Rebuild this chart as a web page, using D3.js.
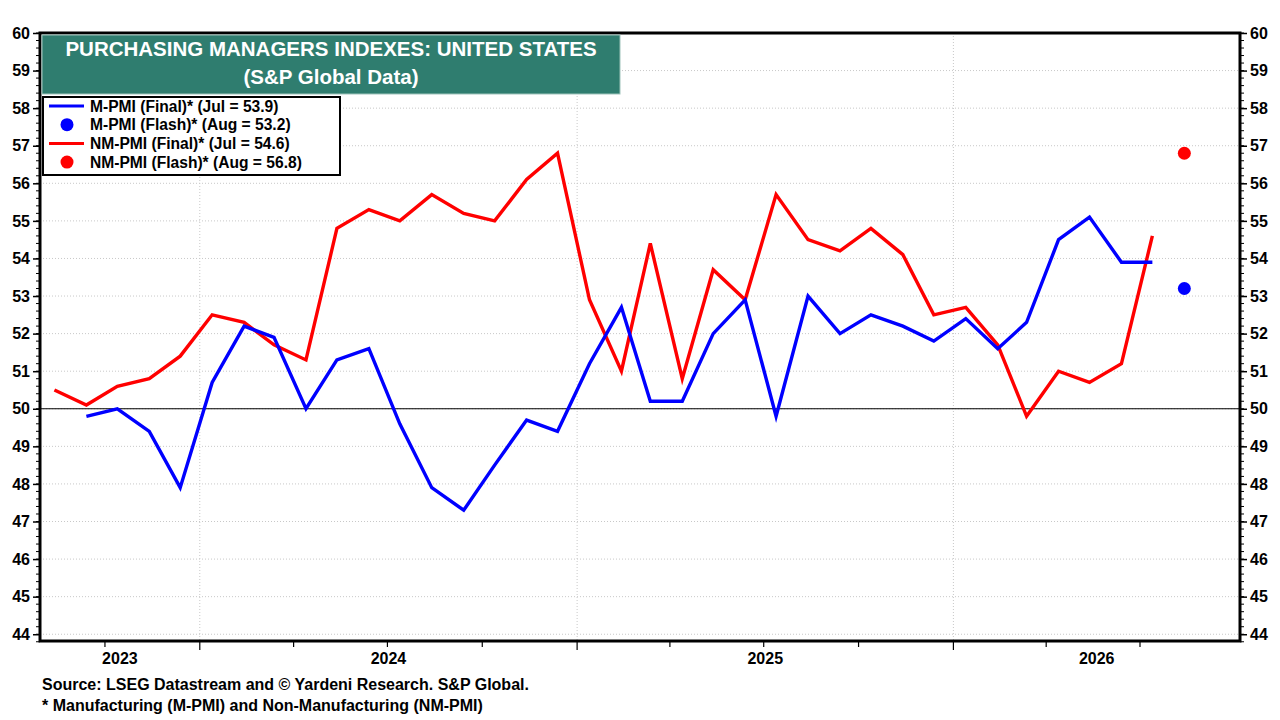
<!DOCTYPE html>
<html>
<head>
<meta charset="utf-8">
<script src="https://cdn.jsdelivr.net/npm/d3@7"></script>
<style>
  body { margin: 0; background: #fff; }
  text { font-family: "Liberation Sans", Arial, sans-serif; font-weight: bold; }
</style>
</head>
<body>
<div class="chart"></div>
<script>
// monthly readings
const nmMonths = [
  '2023-08', '2023-09', '2023-10', '2023-11', '2023-12',
  '2024-01', '2024-02', '2024-03', '2024-04', '2024-05', '2024-06',
  '2024-07', '2024-08', '2024-09', '2024-10', '2024-11', '2024-12',
  '2025-01', '2025-02', '2025-03', '2025-04', '2025-05', '2025-06',
  '2025-07', '2025-08', '2025-09', '2025-10', '2025-11', '2025-12',
  '2026-01', '2026-02', '2026-03', '2026-04', '2026-05', '2026-06', '2026-07'
];
const nmPmi = [
  50.5, 50.1, 50.6, 50.8, 51.4,
  52.5, 52.3, 51.7, 51.3, 54.8, 55.3,
  55.0, 55.7, 55.2, 55.0, 56.1, 56.8,
  52.9, 51.0, 54.4, 50.8, 53.7, 52.9,
  55.7, 54.5, 54.2, 54.8, 54.1, 52.5,
  52.7, 51.7, 49.8, 51.0, 50.7, 51.2, 54.6
];
const mMonths = nmMonths.slice(1);
const mPmi = [
  49.8, 50.0, 49.4, 47.9,
  50.7, 52.2, 51.9, 50.0, 51.3, 51.6,
  49.6, 47.9, 47.3, 48.5, 49.7, 49.4,
  51.2, 52.7, 50.2, 50.2, 52.0, 52.9,
  49.8, 53.0, 52.0, 52.5, 52.2, 51.8,
  52.4, 51.6, 52.3, 54.5, 55.1, 53.9, 53.9
];
const flashMonth = '2026-08';
const mFlash = 53.2;
const nmFlash = 56.8;

const legendItems = [
  { label: 'M-PMI (Final)* (Jul = 53.9)', color: '#0000ff', type: 'line' },
  { label: 'M-PMI (Flash)* (Aug = 53.2)', color: '#0000ff', type: 'dot' },
  { label: 'NM-PMI (Final)* (Jul = 54.6)', color: '#ff0000', type: 'line' },
  { label: 'NM-PMI (Flash)* (Aug = 56.8)', color: '#ff0000', type: 'dot' }
];
const yTicks = d3.range(44, 61);

const w = 1280;
const h = 720;
const margin = { top: 33, right: 40, bottom: 79, left: 40 };

// each month is drawn near the middle of its first half
const monthDate = m => d3.timeParse('%Y-%m-%d')(m + '-13');

const xScale = d3.scaleTime()
                 .domain([new Date(2023, 6, 30), new Date(2026, 9, 6)])
                 .range([margin.left, w - margin.right]);

const yScale = d3.scaleLinear()
                 .domain([43.82, 60])
                 .range([h - margin.bottom, margin.top]);

const svg = d3.select('.chart')
              .append('svg')
              .attr('width', w)
              .attr('height', h);

svg.append('rect')
   .attr('width', w)
   .attr('height', h)
   .attr('fill', '#fff');

// gridlines
svg.append('g')
   .selectAll('line')
   .data(yTicks)
   .enter()
   .append('line')
   .attr('x1', margin.left)
   .attr('x2', w - margin.right)
   .attr('y1', d => yScale(d))
   .attr('y2', d => yScale(d))
   .attr('stroke', '#c8c8c8')
   .attr('stroke-width', 1)
   .attr('stroke-dasharray', '1,2');

const years = d3.timeYear.range(new Date(2024, 0, 1), new Date(2026, 1, 1));

svg.append('g')
   .selectAll('line')
   .data(years)
   .enter()
   .append('line')
   .attr('x1', d => xScale(d))
   .attr('x2', d => xScale(d))
   .attr('y1', margin.top)
   .attr('y2', h - margin.bottom)
   .attr('stroke', '#c8c8c8')
   .attr('stroke-width', 1)
   .attr('stroke-dasharray', '1,2');

svg.append('line')
   .attr('x1', margin.left)
   .attr('x2', w - margin.right)
   .attr('y1', yScale(50))
   .attr('y2', yScale(50))
   .attr('stroke', '#000')
   .attr('stroke-width', 1.2);

// series
const line = d3.line()
               .x(d => xScale(monthDate(d[0])))
               .y(d => yScale(d[1]));

svg.append('path')
   .datum(d3.zip(nmMonths, nmPmi))
   .attr('d', line)
   .attr('fill', 'none')
   .attr('stroke', '#ff0000')
   .attr('stroke-width', 3.4);

svg.append('path')
   .datum(d3.zip(mMonths, mPmi))
   .attr('d', line)
   .attr('fill', 'none')
   .attr('stroke', '#0000ff')
   .attr('stroke-width', 3.4);

svg.selectAll('circle.flash')
   .data([[nmFlash, '#ff0000'], [mFlash, '#0000ff']])
   .enter()
   .append('circle')
   .attr('class', 'flash')
   .attr('cx', xScale(monthDate(flashMonth)))
   .attr('cy', d => yScale(d[0]))
   .attr('r', 6.5)
   .attr('fill', d => d[1]);

// axes
const yLeft = d3.axisLeft(yScale).tickValues(yTicks).tickSize(7).tickPadding(3);
const yRight = d3.axisRight(yScale).tickValues(yTicks).tickSize(7).tickPadding(3);
const minorTicks = d3.range(43.8, 60.01, 0.2).map(v => +v.toFixed(1));

[[margin.left, yLeft, -1], [w - margin.right, yRight, 1]].forEach(([x, axis, dir]) => {
  const g = svg.append('g')
     .attr('transform', `translate(${x}, 0)`)
     .call(axis);
  g.select('.domain').remove();
  g.selectAll('.tick line').attr('stroke', '#000').attr('stroke-width', 1.5);
  g.selectAll('.tick text')
   .attr('fill', '#000')
   .style('font-size', '16px')
   .style('font-weight', 'bold');

  g.selectAll('line.minor')
   .data(minorTicks)
   .enter()
   .append('line')
   .attr('class', 'minor')
   .attr('x1', 0)
   .attr('x2', dir * 4)
   .attr('y1', d => yScale(d))
   .attr('y2', d => yScale(d))
   .attr('stroke', '#000')
   .attr('stroke-width', 1);
});

const quarters = d3.timeMonth.every(3).range(new Date(2023, 8, 1), new Date(2026, 9, 1));

svg.append('g')
   .selectAll('line')
   .data(quarters)
   .enter()
   .append('line')
   .attr('x1', d => xScale(d))
   .attr('x2', d => xScale(d))
   .attr('y1', h - margin.bottom)
   .attr('y2', d => h - margin.bottom + (d.getMonth() === 0 ? 9 : 6))
   .attr('stroke', '#000')
   .attr('stroke-width', 1.2);

// year labels sit in the middle of the visible part of each year
const [d0, d1] = xScale.domain();
const yearLabels = [2023, 2024, 2025, 2026].map(y => {
  const a = new Date(Math.max(new Date(y, 0, 1), d0));
  const b = new Date(Math.min(new Date(y + 1, 0, 1), d1));
  return { year: y, x: (xScale(a) + xScale(b)) / 2 };
});

svg.selectAll('text.year')
   .data(yearLabels)
   .enter()
   .append('text')
   .attr('class', 'year')
   .attr('x', d => d.x)
   .attr('y', 664)
   .style('text-anchor', 'middle')
   .style('font-size', '16px')
   .text(d => d.year);

// frame
svg.append('rect')
   .attr('x', margin.left)
   .attr('y', margin.top)
   .attr('width', w - margin.left - margin.right)
   .attr('height', h - margin.top - margin.bottom)
   .attr('fill', 'none')
   .attr('stroke', '#000')
   .attr('stroke-width', 3);

// title box
svg.append('rect')
   .attr('x', 42)
   .attr('y', 35)
   .attr('width', 578)
   .attr('height', 59)
   .attr('fill', '#2f7d6f')
   .attr('stroke', '#9fc4bb')
   .attr('stroke-width', 1);

svg.append('text')
   .attr('x', 331)
   .attr('y', 56)
   .style('text-anchor', 'middle')
   .style('font-size', '20.5px')
   .attr('fill', '#fff')
   .text('PURCHASING MANAGERS INDEXES: UNITED STATES');

svg.append('text')
   .attr('x', 331)
   .attr('y', 84)
   .style('text-anchor', 'middle')
   .style('font-size', '20.5px')
   .attr('fill', '#fff')
   .text('(S&P Global Data)');

// legend
const legend = svg.append('g');

legend.append('rect')
      .attr('x', 43)
      .attr('y', 97)
      .attr('width', 297)
      .attr('height', 78)
      .attr('fill', '#fff')
      .attr('stroke', '#000')
      .attr('stroke-width', 2);

const rows = legend.selectAll('g.row')
                   .data(legendItems)
                   .enter()
                   .append('g')
                   .attr('class', 'row')
                   .attr('transform', (d, i) => `translate(0, ${106 + i * 18.7})`);

rows.filter(d => d.type === 'line')
    .append('line')
    .attr('x1', 49)
    .attr('x2', 84)
    .attr('stroke', d => d.color)
    .attr('stroke-width', 3);

rows.filter(d => d.type === 'dot')
    .append('circle')
    .attr('cx', 67)
    .attr('r', 6.5)
    .attr('fill', d => d.color);

rows.append('text')
    .attr('x', 90)
    .attr('y', 5.5)
    .style('font-size', '15.6px')
    .text(d => d.label);

// notes
svg.append('text')
   .attr('x', 42)
   .attr('y', 690)
   .style('font-size', '16px')
   .text('Source: LSEG Datastream and © Yardeni Research. S&P Global.');

svg.append('text')
   .attr('x', 42)
   .attr('y', 711)
   .style('font-size', '16px')
   .text('* Manufacturing (M-PMI) and Non-Manufacturing (NM-PMI)');
</script>
</body>
</html>
